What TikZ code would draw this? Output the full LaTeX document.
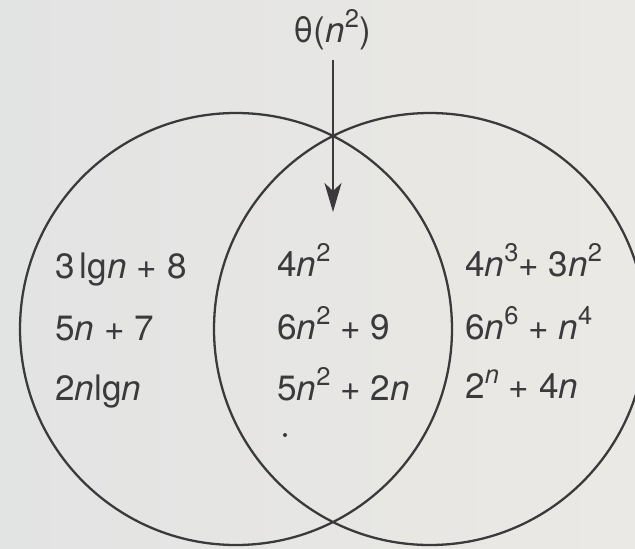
\documentclass[tikz,border=0pt]{standalone}
\usepackage{fontspec}
\setmainfont{TeX Gyre Heros}
\usetikzlibrary{arrows.meta}
\definecolor{InkGray}{RGB}{58,58,60}
\definecolor{PaperLeft}{RGB}{226,227,227}
\definecolor{PaperMid}{RGB}{216,218,219}
\definecolor{PaperRight}{RGB}{235,233,229}
\newcommand\pw[1]{\raisebox{0.42em}{\fontsize{14.5}{14.5}\selectfont #1}}

\begin{document}
\begin{tikzpicture}[x=0.02cm, y=-0.02cm,
    expr/.style={anchor=base west, inner sep=0pt, text=InkGray, font=\fontsize{20}{24}\selectfont},
    ring/.style={draw=InkGray, line width=1.3pt}]
    % Paper
    \shade[left color=PaperLeft, middle color=PaperMid, right color=PaperRight] (0,0) rectangle (635,548);
    \useasboundingbox (0,0) rectangle (635,548);
    \clip (0,0) rectangle (635,548);

    % The two sets
    \draw[ring] (236,329) circle[radius=216];
    \draw[ring] (430,329) circle[radius=216];

    % Label and arrow into the overlap
    \node[expr, anchor=base, inner sep=3pt] (theta) at (332,42) {θ(\textit{n}\pw{2})};
    \coordinate (tip) at (333,212);
    \draw[ring, -{Stealth[length=5.8mm, width=3.4mm, inset=1.6mm]}, shorten <=3pt] (theta.south -| tip) -- (tip);

    % Left set only
    \node[expr] (left1) at (55,278) {3\kern2.5pt lg\kern0.5pt\textit{n} + 8};
    \node[expr] (left2) at (55,340) {5\textit{n} + 7};
    \node[expr] (left3) at (55,400) {2\textit{n}lg\textit{n}};

    % Overlap
    \node[expr] (mid1) at (277,276) {4\textit{n}\pw{2}};
    \node[expr] (mid2) at (277,339) {6\textit{n}\pw{2} + 9};
    \node[expr] (mid3) at (277,400) {5\textit{n}\pw{2} + 2\textit{n}};
    \fill[InkGray] (285,435) circle[radius=2];

    % Right set only
    \node[expr] (right1) at (465,276) {4\textit{n}\pw{3}+ 3\textit{n}\pw{2}};
    \node[expr] (right2) at (465,339) {6\textit{n}\pw{6} + \textit{n}\pw{4}};
    \node[expr] (right3) at (465,398) {2\pw{\textit{n}} + 4\textit{n}};
\end{tikzpicture}
\end{document}
